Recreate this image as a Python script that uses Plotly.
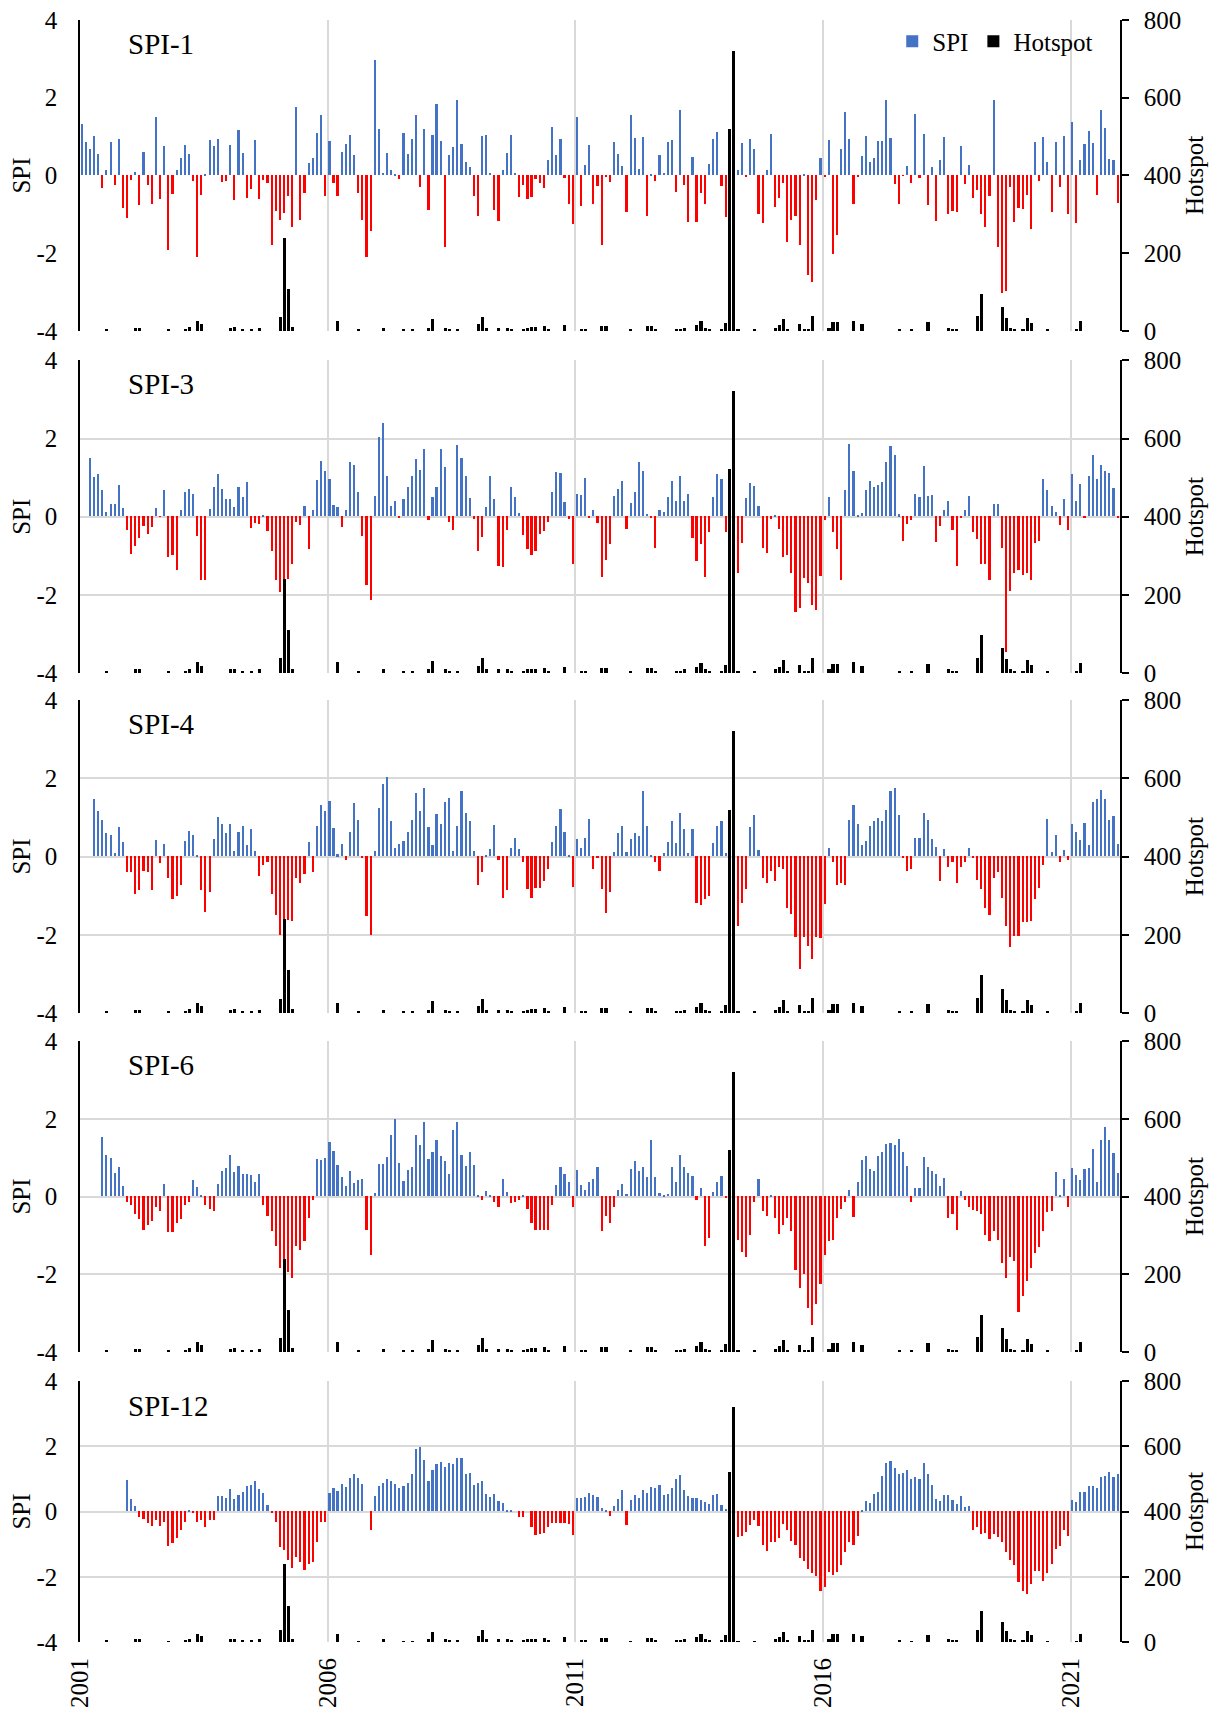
import plotly.graph_objects as go
import pandas as pd

# ---------------- data ----------------
months = pd.date_range("2001-01-01", periods=252, freq="MS")
year_ticks = ["2001-01-01", "2006-01-01", "2011-01-01", "2016-01-01", "2021-01-01"]

spi1 = [
    1.33, 0.86, 0.69, 1.01, 0.56, -0.32, 0.15, 0.86, -0.24, 0.93, -0.84, -1.09,
    -0.11, 0.09, -0.75, 0.61, -0.24, -0.74, 1.51, -0.61, 0.76, -1.93, -0.47, 0.15,
    0.44, 0.79, 0.54, -0.15, -2.11, -0.5, 0.05, 0.91, 0.75, 0.93, -0.16, -0.15,
    0.78, -0.62, 1.16, 0.59, -0.57, -0.34, 0.92, -0.6, -0.11, -0.19, -1.8, -0.91,
    -1.14, -0.96, -0.53, -1.32, 1.75, -1.14, -0.44, 0.32, 0.45, 1.09, 1.56, -0.52,
    0.88, -0.19, -0.52, 0.6, 0.8, 1.03, 0.52, -0.44, -1.14, -2.11, -1.44, 2.96,
    1.2, 0.06, 0.57, 0.15, 0.03, -0.08, 1.08, 0.56, 0.93, 1.55, -0.29, 1.2,
    -0.89, 1.03, 1.84, 0.88, -1.85, 0.52, 0.72, 1.93, 0.8, 0.35, 0.21, -0.52,
    -1.03, 1.01, 1.03, 0.06, -0.88, -1.16, 0.13, 0.59, 1.03, 0.07, -0.55, -0.24,
    -0.6, -0.55, -0.08, -0.19, -0.32, 0.39, 1.25, 0.52, 0.94, -0.06, -0.74, -1.24,
    1.5, -0.78, 0.27, 0.79, -0.74, -0.26, -1.78, -0.04, -0.16, 0.87, 0.55, 0.24,
    -0.93, 1.55, 0.97, 0.16, 0.98, -1.03, 0.03, -0.14, 0.52, 0.07, 0.85, 0.92,
    -0.42, 1.68, -0.24, -1.19, 0.48, -1.19, -0.44, -0.74, 0.29, 0.94, 1.11, -0.26,
    -1.06, 0.9, -1.0, 0.15, 0.83, -0.03, 0.93, 0.68, -0.98, -1.21, 0.14, 1.06,
    -0.8, -0.57, -0.19, -1.7, -1.14, -1.03, -1.78, 0.03, -2.57, -2.73, -0.62, 0.44,
    -0.03, 0.9, -2.03, -1.52, 0.68, 1.64, 0.94, -0.73, -0.03, 0.5, 1.02, 0.35,
    0.45, 0.89, 0.89, 1.93, 0.96, -0.21, -0.73, -0.01, 0.24, -0.19, 1.57, -0.06,
    1.06, -0.75, 0.21, -1.18, 0.39, 1.0, -0.98, -0.91, -0.93, 0.77, -0.21, 0.28,
    -0.57, -0.38, -1.0, -1.32, -0.53, 1.93, -1.85, -3.03, -2.96, -0.3, -1.19, -0.83,
    -0.86, -0.5, -1.39, 0.86, -0.14, 1.0, 0.34, -0.93, 0.86, -0.29, 1.01, -0.98,
    1.37, -1.21, 0.39, 0.8, 1.14, 0.84, -0.5, 1.68, 1.22, 0.42, 0.39, -0.7,
]

spi3 = [
    None, None, 1.48, 1.0, 1.09, 0.66, 0.12, 0.32, 0.32, 0.79, 0.2, -0.36,
    -0.97, -0.77, -0.56, -0.26, -0.45, -0.28, 0.2, -0.01, 0.68, -1.05, -1.0, -1.38,
    0.15, 0.63, 0.71, 0.56, -0.51, -1.64, -1.62, 0.18, 0.74, 1.07, 0.71, 0.44,
    0.44, 0.25, 0.76, 0.5, 0.88, -0.29, -0.18, -0.19, 0.04, -0.38, -0.9, -1.62,
    -1.95, -1.85, -1.6, -1.23, -0.14, -0.23, 0.27, -0.83, 0.16, 0.94, 1.41, 1.17,
    0.96, 0.3, 0.25, -0.28, 0.16, 1.38, 1.32, 0.63, -0.51, -1.75, -2.15, 0.51,
    2.03, 2.38, 1.02, 0.26, 0.4, -0.05, 0.43, 0.76, 1.04, 1.46, 1.18, 1.71,
    -0.1, 0.49, 0.76, 1.72, 1.27, -0.15, -0.36, 1.82, 1.5, 1.02, 0.48, -0.08,
    -0.9, -0.52, 0.25, 1.02, 0.44, -1.26, -1.29, -0.36, 0.74, 0.49, 0.09, -0.49,
    -0.85, -1.0, -0.88, -0.46, -0.38, -0.15, 0.63, 1.14, 1.11, 0.37, -0.08, -1.21,
    0.56, 0.54, 0.97, -0.03, 0.16, -0.18, -1.56, -1.13, -0.72, 0.51, 0.71, 0.91,
    -0.33, 0.33, 0.62, 1.39, 1.16, 0.07, -0.03, -0.82, 0.15, 0.12, 0.49, 0.9,
    0.4, 1.02, 0.4, 0.58, -0.56, -1.15, -0.72, -1.56, -0.41, 0.5, 1.08, 0.96,
    -0.41, -0.5, -0.8, -1.46, -0.69, 0.46, 0.85, 0.77, 0.27, -0.82, -0.95, -0.08,
    0.02, -0.33, -1.05, -1.0, -1.44, -2.44, -2.36, -1.59, -1.72, -2.26, -2.41, -1.54,
    -0.1, 0.5, -0.41, -0.85, -1.62, 0.66, 1.86, 1.17, 0.02, 0.08, 0.67, 0.91,
    0.76, 0.79, 0.87, 1.39, 1.81, 1.56, 0.05, -0.64, -0.21, -0.1, 0.58, 0.49,
    1.29, 0.51, 0.55, -0.67, -0.26, 0.17, 0.4, -0.36, -1.26, -0.02, 0.15, 0.53,
    -0.41, -0.59, -1.21, -1.23, -1.62, 0.31, 0.31, -0.82, -3.48, -1.9, -1.46, -1.38,
    -1.51, -1.46, -1.64, -0.69, -0.64, 0.96, 0.66, 0.26, 0.12, -0.23, 0.45, -0.36,
    1.07, 0.38, 0.83, -0.05, 1.02, 1.57, 0.95, 1.32, 1.17, 1.1, 0.72, -0.03,
]

spi4 = [
    None, None, None, 1.48, 1.15, 0.94, 0.59, 0.54, 0.09, 0.75, 0.38, -0.41,
    -0.41, -0.95, -0.87, -0.36, -0.41, -0.87, 0.43, -0.18, 0.31, -0.56, -1.08, -1.0,
    -0.72, 0.39, 0.66, 0.56, 0.02, -0.85, -1.41, -0.9, 0.45, 1.02, 0.84, 0.59,
    0.84, 0.13, 0.63, 0.77, 0.3, 0.71, 0.13, -0.51, -0.21, -0.15, -0.97, -1.5,
    -2.0, -1.9, -1.62, -1.64, -0.56, -0.67, -0.44, 0.37, -0.41, 0.79, 1.32, 1.15,
    1.43, 0.74, 0.05, 0.32, -0.08, 0.62, 1.37, 0.94, -0.03, -1.52, -2.0, 0.15,
    1.25, 1.84, 2.03, 0.91, 0.22, 0.32, 0.4, 0.62, 0.94, 1.62, 1.15, 1.76,
    0.76, 0.3, 1.09, 0.84, 1.38, 1.49, 0.14, 0.79, 1.67, 1.12, 0.91, 0.15,
    -0.72, -0.41, 0.03, 0.2, 0.8, -0.08, -1.05, -0.85, 0.21, 0.46, 0.2, -0.13,
    -0.82, -1.05, -0.8, -0.8, -0.64, -0.31, 0.38, 0.79, 1.22, 0.63, 0.04, -0.77,
    0.44, 0.22, 0.47, 0.97, -0.31, -0.02, -0.82, -1.44, -0.92, 0.12, 0.59, 0.77,
    0.12, 0.44, 0.6, 0.53, 1.68, 0.77, 0.02, -0.15, -0.38, 0.08, 0.37, 0.91,
    0.35, 1.12, 0.69, 0.1, 0.7, -1.18, -1.23, -1.08, -1.0, 0.35, 0.79, 0.91,
    0.08, -0.5, -1.2, -1.79, -1.18, -0.82, 0.76, 1.07, 0.17, -0.56, -0.67, -0.36,
    -0.62, -0.26, -0.33, -1.31, -1.46, -2.05, -2.87, -2.05, -2.28, -2.63, -2.05, -2.08,
    -1.21, 0.22, -0.15, -0.72, -0.67, -0.74, 0.94, 1.32, 0.84, 0.28, 0.4, 0.79,
    0.91, 0.98, 0.91, 1.2, 1.68, 1.76, 1.07, -0.03, -0.38, -0.31, 0.48, 0.48,
    1.11, 0.94, 0.44, 0.24, -0.62, 0.19, -0.26, -0.13, -0.69, -0.26, -0.13, 0.21,
    -0.03, -0.59, -0.82, -1.33, -1.49, -0.54, -0.41, -1.05, -1.79, -2.31, -2.03, -2.03,
    -1.67, -1.67, -1.64, -1.1, -0.8, -0.21, 0.95, 0.11, 0.56, -0.15, 0.16, -0.1,
    0.83, 0.63, 0.42, 0.86, 0.28, 1.39, 1.48, 1.71, 1.48, 0.94, 1.03, 0.32,
]

spi6 = [
    None, None, None, None, None, 1.53, 1.07, 0.99, 0.61, 0.76, 0.26, -0.13,
    -0.21, -0.44, -0.59, -0.85, -0.74, -0.64, -0.26, -0.38, 0.32, -0.92, -0.92, -0.69,
    -0.59, -0.21, -0.15, 0.42, 0.24, 0.05, -0.23, -0.33, -0.38, 0.32, 0.66, 0.72,
    1.06, 0.63, 0.79, 0.57, 0.57, 0.55, 0.37, 0.58, -0.21, -0.51, -0.9, -1.28,
    -1.85, -2.0, -1.95, -2.1, -1.28, -1.38, -1.15, -0.56, -0.08, 0.97, 0.95, 0.99,
    1.39, 1.18, 0.8, 0.51, 0.27, 0.66, 0.35, 0.43, 0.45, -0.85, -1.51, 0.09,
    0.83, 0.83, 1.02, 1.59, 2.0, 0.86, 0.4, 0.68, 0.76, 1.57, 1.32, 1.91,
    0.97, 1.15, 1.45, 1.03, 0.91, 0.58, 1.7, 1.91, 1.07, 0.79, 1.14, 0.8,
    0.02, -0.08, 0.14, 0.04, -0.15, -0.28, 0.45, 0.12, -0.18, -0.15, -0.1, 0.02,
    -0.33, -0.69, -0.85, -0.87, -0.87, -0.85, -0.23, 0.29, 0.76, 0.58, 0.37, -0.28,
    0.68, 0.3, 0.16, 0.36, 0.44, 0.76, -0.9, -0.49, -0.69, -0.26, 0.17, 0.32,
    0.06, 0.7, 0.91, 0.66, 0.76, 0.51, 1.45, 0.51, 0.09, 0.03, 0.06, 0.76,
    0.37, 1.07, 0.76, 0.6, 0.52, -0.1, 0.21, -1.28, -1.08, 0.11, 0.38, 0.53,
    -0.03, -0.4, -0.9, -1.13, -1.44, -1.56, -1.0, -0.13, 0.44, -0.38, -0.51, 0.04,
    -0.56, -0.97, -0.74, -0.56, -0.9, -1.88, -2.36, -2.0, -2.87, -3.31, -2.77, -2.26,
    -1.51, -1.15, -1.13, -0.56, -0.33, -0.15, 0.16, -0.54, 0.37, 0.95, 1.03, 0.71,
    0.66, 1.03, 1.15, 1.35, 1.38, 1.32, 1.49, 1.15, 0.79, -0.13, 0.23, 0.23,
    1.02, 0.76, 0.65, 0.57, 0.26, 0.48, -0.56, -0.44, -0.85, 0.13, -0.08, -0.26,
    -0.36, -0.38, -0.46, -1.0, -1.15, -0.9, -1.13, -1.72, -2.1, -1.55, -1.67, -2.98,
    -2.57, -2.18, -1.85, -1.46, -1.31, -0.9, -0.41, -0.38, 0.64, 0.05, 0.45, -0.28,
    0.73, 0.55, 0.42, 0.71, 0.73, 1.23, 0.38, 1.45, 1.8, 1.45, 1.13, 0.61,
]

spi12 = [
    None, None, None, None, None, None, None, None, None, None, None, 0.97,
    0.39, 0.17, -0.17, -0.24, -0.36, -0.45, -0.27, -0.45, -0.33, -1.07, -0.97, -0.8,
    -0.57, -0.33, 0.04, -0.05, -0.31, -0.27, -0.48, -0.27, -0.27, 0.46, 0.49, 0.41,
    0.7, 0.38, 0.51, 0.6, 0.77, 0.81, 0.92, 0.7, 0.58, 0.21, -0.05, -0.31,
    -1.1, -1.17, -1.5, -1.72, -1.38, -1.56, -1.78, -1.6, -1.55, -0.95, -0.31, -0.31,
    0.56, 0.73, 0.64, 0.84, 0.74, 1.02, 1.15, 1.03, 0.85, 0.0, -0.56, 0.48,
    0.78, 0.87, 1.01, 0.92, 0.85, 0.71, 0.78, 0.88, 1.16, 1.93, 1.99, 1.57,
    0.92, 1.26, 1.46, 1.51, 1.37, 1.49, 1.46, 1.64, 1.64, 1.15, 1.18, 0.8,
    0.88, 0.93, 0.54, 0.43, 0.53, 0.32, 0.25, 0.02, 0.04, 0.0, -0.18, -0.18,
    0.0, -0.46, -0.71, -0.7, -0.67, -0.48, -0.36, -0.34, -0.34, -0.36, -0.39, -0.71,
    0.4, 0.4, 0.44, 0.56, 0.52, 0.44, 0.11, 0.04, -0.15, 0.17, 0.38, 0.67,
    -0.4, 0.36, 0.51, 0.42, 0.65, 0.57, 0.75, 0.72, 0.81, 0.52, 0.53, 0.73,
    1.0, 1.11, 0.67, 0.49, 0.42, 0.42, 0.36, 0.3, 0.24, 0.5, 0.53, 0.21,
    0.09, 0.1, -0.5, -0.77, -0.74, -0.62, -0.42, -0.26, -0.43, -1.02, -1.2, -0.95,
    -0.92, -0.8, -0.37, -0.58, -0.89, -1.02, -1.42, -1.51, -1.75, -1.88, -1.97, -2.43,
    -2.31, -1.85, -1.94, -1.85, -1.63, -1.23, -0.92, -1.02, -0.74, 0.05, 0.32, 0.27,
    0.55, 0.59, 1.09, 1.48, 1.56, 1.32, 1.16, 1.19, 1.27, 0.99, 1.06, 1.0,
    1.48, 1.15, 0.81, 0.39, 0.31, 0.5, 0.5, 0.36, 0.22, 0.48, 0.13, 0.17,
    -0.56, -0.48, -0.68, -0.65, -0.83, -0.68, -0.77, -0.92, -1.23, -1.48, -1.63, -2.15,
    -2.43, -2.52, -2.21, -1.82, -1.82, -2.12, -1.88, -1.6, -1.14, -1.05, -0.58, -0.74,
    0.36, 0.29, 0.61, 0.59, 0.79, 0.78, 0.71, 1.05, 1.1, 1.2, 1.07, 1.15,
]

hotspot = [
    0, 0, 0, 0, 0, 0, 5, 0, 0, 0, 0, 0,            # 2001
    0, 8, 8, 0, 0, 0, 0, 0, 0, 3, 0, 0,            # 2002
    0, 5, 10, 0, 26, 18, 0, 0, 0, 0, 0, 0,         # 2003
    8, 10, 0, 5, 0, 5, 0, 8, 0, 0, 0, 0,           # 2004
    36, 239, 109, 10, 0, 0, 0, 0, 0, 0, 0, 0,      # 2005
    0, 0, 26, 0, 0, 0, 0, 3, 0, 0, 0, 0,           # 2006
    0, 8, 0, 0, 0, 0, 3, 0, 3, 0, 0, 0,            # 2007
    8, 30, 0, 0, 8, 5, 0, 5, 0, 0, 0, 0,           # 2008
    18, 36, 8, 0, 0, 8, 0, 8, 5, 0, 0, 5,          # 2009
    8, 10, 10, 0, 12, 5, 0, 0, 0, 15, 0, 0,        # 2010
    0, 5, 5, 0, 0, 0, 12, 12, 0, 0, 0, 0,          # 2011
    0, 3, 0, 0, 0, 12, 12, 5, 0, 0, 0, 0,          # 2012
    5, 5, 8, 0, 0, 15, 25, 8, 5, 0, 0, 5,          # 2013
    20, 520, 720, 3, 0, 0, 0, 3, 0, 0, 0, 0,       # 2014
    8, 15, 32, 5, 0, 0, 19, 5, 5, 38, 0, 0,        # 2015
    0, 8, 23, 23, 0, 0, 0, 26, 0, 17, 0, 0,        # 2016
    0, 0, 0, 0, 0, 0, 5, 0, 0, 3, 0, 0,            # 2017
    0, 22, 0, 0, 0, 0, 8, 5, 5, 0, 0, 0,           # 2018
    0, 38, 96, 0, 0, 0, 0, 62, 34, 8, 5, 0,        # 2019
    5, 33, 20, 0, 0, 0, 3, 0, 0, 0, 0, 0,          # 2020
    0, 3, 25, 0, 0, 0, 0, 0, 0, 0, 0, 0,           # 2021
]

panel_names = ["SPI-1", "SPI-3", "SPI-4", "SPI-6", "SPI-12"]
panel_series = [spi1, spi3, spi4, spi6, spi12]
spi_ticks = [-4, -2, 0, 2, 4]
spi_ticktext = ["-4", "-2", "0", "2", "4"]
hot_ticks = [0, 200, 400, 600, 800]

# ---------------- style ----------------
BLUE = "#4472C4"
RED = "#FF0000"
GRID = "#D9D9D9"
FONT = "Liberation Serif"
FS = 25
MONTH_MS = 30.44 * 24 * 3600 * 1000

# panel vertical domains (paper fractions, bottom->top)
domains = [
    [0.8083, 1.0],
    [0.5974, 0.7901],
    [0.3878, 0.5807],
    [0.1788, 0.3705],
    [0.0, 0.1609],
]

fig = go.Figure()
layout = {}
annotations = []

for k in range(1, 6):
    name = panel_names[k - 1]
    vals = panel_series[k - 1]
    xa = "x" if k == 1 else f"x{k}"
    ya = "y" if k == 1 else f"y{k}"
    ya2 = f"y{k + 5}"
    colors = [BLUE if (v is None or v >= 0) else RED for v in vals]

    fig.add_trace(go.Bar(
        x=months, y=vals, xperiod="M1", xperiodalignment="middle",
        width=0.4 * MONTH_MS, marker=dict(color=colors, line=dict(width=0)),
        name="SPI", legendgroup="spi", showlegend=(k == 1),
        xaxis=xa, yaxis=ya,
    ))
    fig.add_trace(go.Bar(
        x=months, y=hotspot, xperiod="M1", xperiodalignment="middle",
        width=0.75 * MONTH_MS, marker=dict(color="black", line=dict(width=0)),
        name="Hotspot", legendgroup="hot", showlegend=(k == 1),
        xaxis=xa, yaxis=ya2,
    ))

    xkey = "xaxis" if k == 1 else f"xaxis{k}"
    ykey = "yaxis" if k == 1 else f"yaxis{k}"
    y2key = f"yaxis{k + 5}"

    layout[xkey] = dict(
        domain=[0, 1], anchor=ya, type="date",
        range=["2001-01-01", "2022-01-01"],
        tickvals=year_ticks, tickformat="%Y",
        showgrid=True, gridcolor=GRID, gridwidth=1.5,
        showline=False, zeroline=False, ticks="",
        showticklabels=(k == 5), tickangle=-90,
        tickfont=dict(family=FONT, size=FS, color="black"),
        ticklabelstandoff=10, ticklabeloverflow="allow",
        automargin=False, fixedrange=True,
    )
    layout[ykey] = dict(
        domain=domains[k - 1], anchor=xa, range=[-4, 4],
        tickvals=spi_ticks, ticktext=spi_ticktext,
        showgrid=(k != 1), gridcolor=GRID, gridwidth=1.5,
        zeroline=False, showline=True, linecolor="black", linewidth=1.5,
        ticks="", ticklabelstandoff=16, ticklabeloverflow="allow",
        tickfont=dict(family=FONT, size=FS, color="black"),
        title=dict(text="SPI", font=dict(family=FONT, size=FS, color="black"), standoff=2),
        automargin=False, fixedrange=True,
    )
    layout[y2key] = dict(
        overlaying=ya, side="right", anchor=xa, range=[0, 800],
        tickvals=hot_ticks, showgrid=False, zeroline=False,
        showline=True, linecolor="black", linewidth=1.5,
        ticks="outside", ticklen=7, tickwidth=1.5, tickcolor="black",
        ticklabelstandoff=10, ticklabeloverflow="allow",
        tickfont=dict(family=FONT, size=FS, color="black"),
        title=dict(text="Hotspot", font=dict(family=FONT, size=FS, color="black"), standoff=4),
        automargin=False, fixedrange=True,
    )

    ytop = 0.924 if k < 5 else 0.905
    annotations.append(dict(
        text=name, xref=f"{xa} domain", yref=f"{ya} domain",
        x=0.044, y=ytop, xanchor="left", yanchor="middle", showarrow=False,
        font=dict(family=FONT, size=29, color="black"),
    ))

# the page body adds an 8 px offset, so the figure is 8 px smaller on each axis
fig.update_layout(
    width=1210, height=1705,
    margin=dict(l=72, r=98, t=12, b=71, autoexpand=False),
    paper_bgcolor="white", plot_bgcolor="white",
    barmode="overlay", bargap=0,
    showlegend=True,
    legend=dict(
        orientation="h", xref="paper", yref="paper",
        x=0.781, y=0.9867, xanchor="left", yanchor="middle",
        font=dict(family=FONT, size=FS, color="black"),
        bgcolor="rgba(0,0,0,0)", itemwidth=30, traceorder="normal",
    ),
    annotations=annotations,
    **layout,
)

fig.write_html("out.html")
